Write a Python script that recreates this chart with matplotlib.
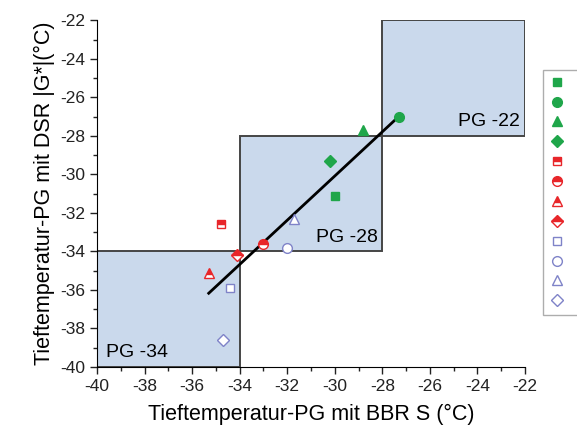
import numpy as np
import matplotlib.pyplot as plt
from matplotlib.patches import Rectangle
from matplotlib.ticker import MultipleLocator

plt.rcParams['font.family'] = ['Liberation Sans', 'DejaVu Sans']

# Tieftemperatur-PG mit BBR S (x) und DSR (y)
gruen_x = [-30.0, -27.3, -28.8, -30.2]
gruen_y = [-31.1, -27.0, -27.7, -29.3]
rot_x = [-34.8, -33.0, -35.3, -34.1]
rot_y = [-32.6, -33.6, -35.1, -34.2]
blau_x = [-34.4, -32.0, -31.7, -34.7]
blau_y = [-35.9, -33.8, -32.3, -38.6]
marker = ['s', 'o', '^', 'D']
groesse = [6, 7, 7, 6]

# PG-Klassen (untere Grenze, obere Grenze)
klassen = [(-40, -34), (-34, -28), (-28, -22)]
klassen_namen = ['PG -34', 'PG -28', 'PG -22']

gruen = '#1fa64a'
rot = '#e8262a'
blau = '#7f83c8'
box_farbe = '#cad9ec'

fig = plt.figure(figsize=(5.77, 4.28), dpi=100)
ax = fig.add_axes([0.168, 0.1425, 0.742, 0.81])

for (lo, hi) in klassen:
    ax.add_patch(Rectangle((lo, lo), hi - lo, hi - lo, facecolor=box_farbe,
                           edgecolor='#454545', lw=1.4, zorder=1))

ax.text(-39.6, -39.7, klassen_namen[0], fontsize=14, ha='left', va='bottom', zorder=3)
ax.text(-28.2, -33.7, klassen_namen[1], fontsize=14, ha='right', va='bottom', zorder=3)
ax.text(-22.2, -27.7, klassen_namen[2], fontsize=14, ha='right', va='bottom', zorder=3)

# lineare Regression über alle Punkte
alle_x = np.array(gruen_x + rot_x + blau_x)
alle_y = np.array(gruen_y + rot_y + blau_y)
a, b = np.polyfit(alle_x, alle_y, 1)
xr = np.array([alle_x.min(), alle_x.max()])
ax.plot(xr, a * xr + b, color='black', lw=2, zorder=4)

handles = []
for i in range(4):
    h, = ax.plot(gruen_x[i], gruen_y[i], linestyle='none', marker=marker[i],
                 ms=groesse[i], color=gruen, mec=gruen, zorder=5)
    handles.append(h)
for i in range(4):
    h, = ax.plot(rot_x[i], rot_y[i], linestyle='none', marker=marker[i],
                 ms=groesse[i], color=rot, mec=rot, fillstyle='top',
                 markerfacecoloralt='white', mew=1, zorder=5)
    handles.append(h)
for i in range(4):
    h, = ax.plot(blau_x[i], blau_y[i], linestyle='none', marker=marker[i],
                 ms=groesse[i], color=blau, mfc='white', mec=blau, mew=1, zorder=5)
    handles.append(h)

ax.set_xlim(-40, -22)
ax.set_ylim(-40, -22)
ax.xaxis.set_major_locator(MultipleLocator(2))
ax.yaxis.set_major_locator(MultipleLocator(2))
ax.xaxis.set_minor_locator(MultipleLocator(1))
ax.yaxis.set_minor_locator(MultipleLocator(1))
ax.tick_params(which='major', direction='out', length=5, width=1, labelsize=12.5,
               colors='#222222')
ax.tick_params(which='minor', direction='out', length=3, width=1, colors='#222222')
for s in ['top', 'right']:
    ax.spines[s].set_visible(False)
ax.set_xticklabels([f'{int(v)}' for v in ax.get_xticks()])
ax.set_yticklabels([f'{int(v)}' for v in ax.get_yticks()])

ax.set_xlabel('Tieftemperatur-PG mit BBR S (°C)', fontsize=15.5, labelpad=7)
ax.set_ylabel('Tieftemperatur-PG mit DSR |G*|(°C)', fontsize=15.5, labelpad=4)

leg = fig.legend(handles, [''] * 12, loc='upper left',
                 bbox_to_anchor=(0.931, 0.852), frameon=True, fancybox=False,
                 edgecolor='#999999', handlelength=1.0, labelspacing=0.63,
                 borderpad=0.6, handletextpad=2.0, fontsize=9)

fig.savefig('out.png', dpi=100)
